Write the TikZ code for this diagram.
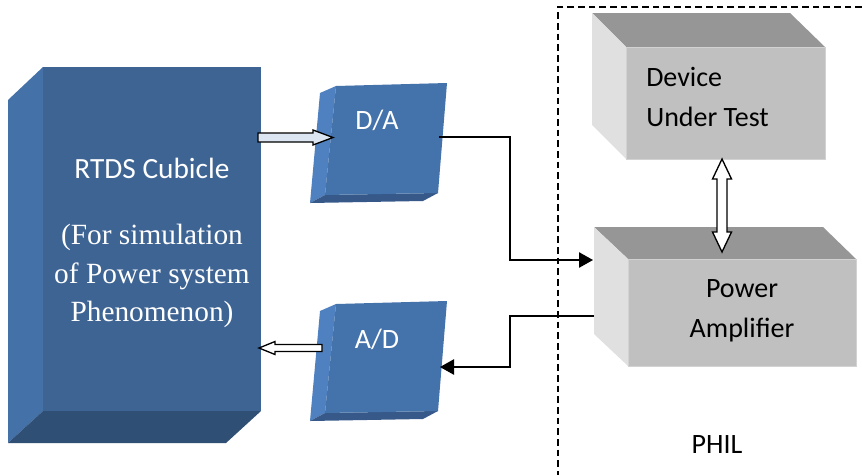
\documentclass[tikz,border=0pt]{standalone}
\usepackage{fontspec}
\setmainfont{Carlito}
\newfontfamily\tnr{Liberation Serif}
\usetikzlibrary{calc,arrows.meta}
\definecolor{rtdsF}{HTML}{3E6494}
\definecolor{rtdsL}{HTML}{4571A9}
\definecolor{rtdsB}{HTML}{2F4F75}
\definecolor{cvF}{HTML}{4472AA}
\definecolor{cvL}{HTML}{4F80C0}
\definecolor{cvB}{HTML}{37598A}
\definecolor{gF}{HTML}{C0C0C0}
\definecolor{gT}{HTML}{969696}
\definecolor{gL}{HTML}{E0E0E0}
\definecolor{arrowfill}{HTML}{DCE6F2}
\tikzset{
  x=0.75pt, y=-0.75pt,
  lbl/.style={inner sep=0pt, align=center, font=\fontsize{21}{30}\selectfont},
  wlbl/.style={lbl, text=white},
  sig/.style={line width=1.1pt, -{Triangle[length=10.5pt,width=11.5pt]}},
  blockarrow/.style={draw=black, line width=1pt, line join=miter},
  phil/.style={draw=black, line width=1.2pt, dash pattern=on 5pt off 3pt},
  grayedge/.style={draw=gray!35, line width=0.6pt}
}
\begin{document}
\begin{tikzpicture}
\useasboundingbox (0,0) rectangle (862,475);

% PHIL dashed boundary
\coordinate (philCorner) at (558,7);
\coordinate (philTopEnd) at (862,7);
\coordinate (philBotEnd) at (558,475);
\draw[phil] (philTopEnd) -- (philCorner) -- (philBotEnd);

% RTDS cubicle
\fill[rtdsL] (8,100) -- (43,67) -- (43,411) -- (8,443) -- cycle;
\fill[rtdsB] (8,443) -- (43,411) -- (261,411) -- (226,443) -- cycle;
\fill[rtdsF] (43,67) rectangle (261,411);
\node[wlbl, font=\fontsize{22}{26}\selectfont] (rtds) at (152,168) {RTDS Cubicle};
\node[wlbl, font=\tnr\fontsize{22}{29}\selectfont] (rtdsdesc) at (152,276) {(For simulation\\of Power system\\Phenomenon)};

% D/A converter
\fill[cvL] (320,93) -- (336,86) -- (325,195) -- (310,203) -- cycle;
\fill[cvB] (310,203) -- (325,195) -- (438,193) -- (423,201) -- cycle;
\fill[cvF] (336,86) -- (447,83) -- (438,193) -- (325,195) -- cycle;
\node[wlbl] (da) at (377,120) {D/A};

% A/D converter
\begin{scope}[yshift=-218*0.75pt]
\fill[cvL] (320,93) -- (336,86) -- (325,195) -- (310,203) -- cycle;
\fill[cvB] (310,203) -- (325,195) -- (438,193) -- (423,201) -- cycle;
\fill[cvF] (336,86) -- (447,83) -- (438,193) -- (325,195) -- cycle;
\end{scope}
\node[wlbl] (ad) at (377,339) {A/D};

% Device Under Test
\fill[gT] (592,13) -- (790,13) -- (825,47) -- (626,47) -- cycle;
\fill[gL] (592,13) -- (626,47) -- (626,159) -- (592,125) -- cycle;
\fill[gF, grayedge] (626,47) rectangle (825,159);
\node[lbl, align=left, anchor=west] (dut) at (646,97) {Device\\Under Test};

% Power Amplifier
\fill[gT] (594,227) -- (823,227) -- (856,259) -- (628,259) -- cycle;
\fill[gL] (594,227) -- (628,259) -- (628,366) -- (594,334) -- cycle;
\fill[gF, grayedge] (628,259) rectangle (856,366);
\node[lbl] (pa) at (742,311) {Power\\Amplifier};

\node[lbl] (philtext) at (717,445) {PHIL};

% ports
\coordinate (rtdsOut) at (258,137.5);
\coordinate (daIn) at (333,137.5);
\coordinate (daOut) at (439,137);
\coordinate (paIn) at (593,260);
\coordinate (paOut) at (594,316);
\coordinate (adIn) at (440,367);
\coordinate (adOut) at (322,348);
\coordinate (rtdsIn) at (259,348);
\coordinate (dutBot) at (722,159);
\coordinate (paTop) at (722,252);

% block arrow RTDS -> D/A
\filldraw[blockarrow, fill=arrowfill] ($(rtdsOut)+(0,-4.5)$) -- ($(daIn)+(-20,-4.5)$) -- ($(daIn)+(-20,-7.5)$) -- (daIn) -- ($(daIn)+(-20,7.5)$) -- ($(daIn)+(-20,4.5)$) -- ($(rtdsOut)+(0,4.5)$) -- cycle;

% block arrow A/D -> RTDS
\filldraw[blockarrow, fill=white] ($(adOut)+(0,-3.5)$) -- ($(rtdsIn)+(16,-3.5)$) -- ($(rtdsIn)+(16,-6.5)$) -- (rtdsIn) -- ($(rtdsIn)+(16,6.5)$) -- ($(rtdsIn)+(16,3.5)$) -- ($(adOut)+(0,3.5)$) -- cycle;

% double block arrow DUT <-> PA
\filldraw[blockarrow, fill=white] (dutBot) -- ($(dutBot)+(9.5,20)$) -- ($(dutBot)+(5,20)$) -- ($(paTop)+(5,-20)$) -- ($(paTop)+(9.5,-20)$) -- (paTop) -- ($(paTop)+(-9.5,-20)$) -- ($(paTop)+(-5,-20)$) -- ($(dutBot)+(-5,20)$) -- ($(dutBot)+(-9.5,20)$) -- cycle;

% signal lines
\draw[sig] (daOut) -- ++(71,0) |- (paIn);
\draw[sig] (paOut) -- ++(-84,0) |- (adIn);
\end{tikzpicture}
\end{document}
